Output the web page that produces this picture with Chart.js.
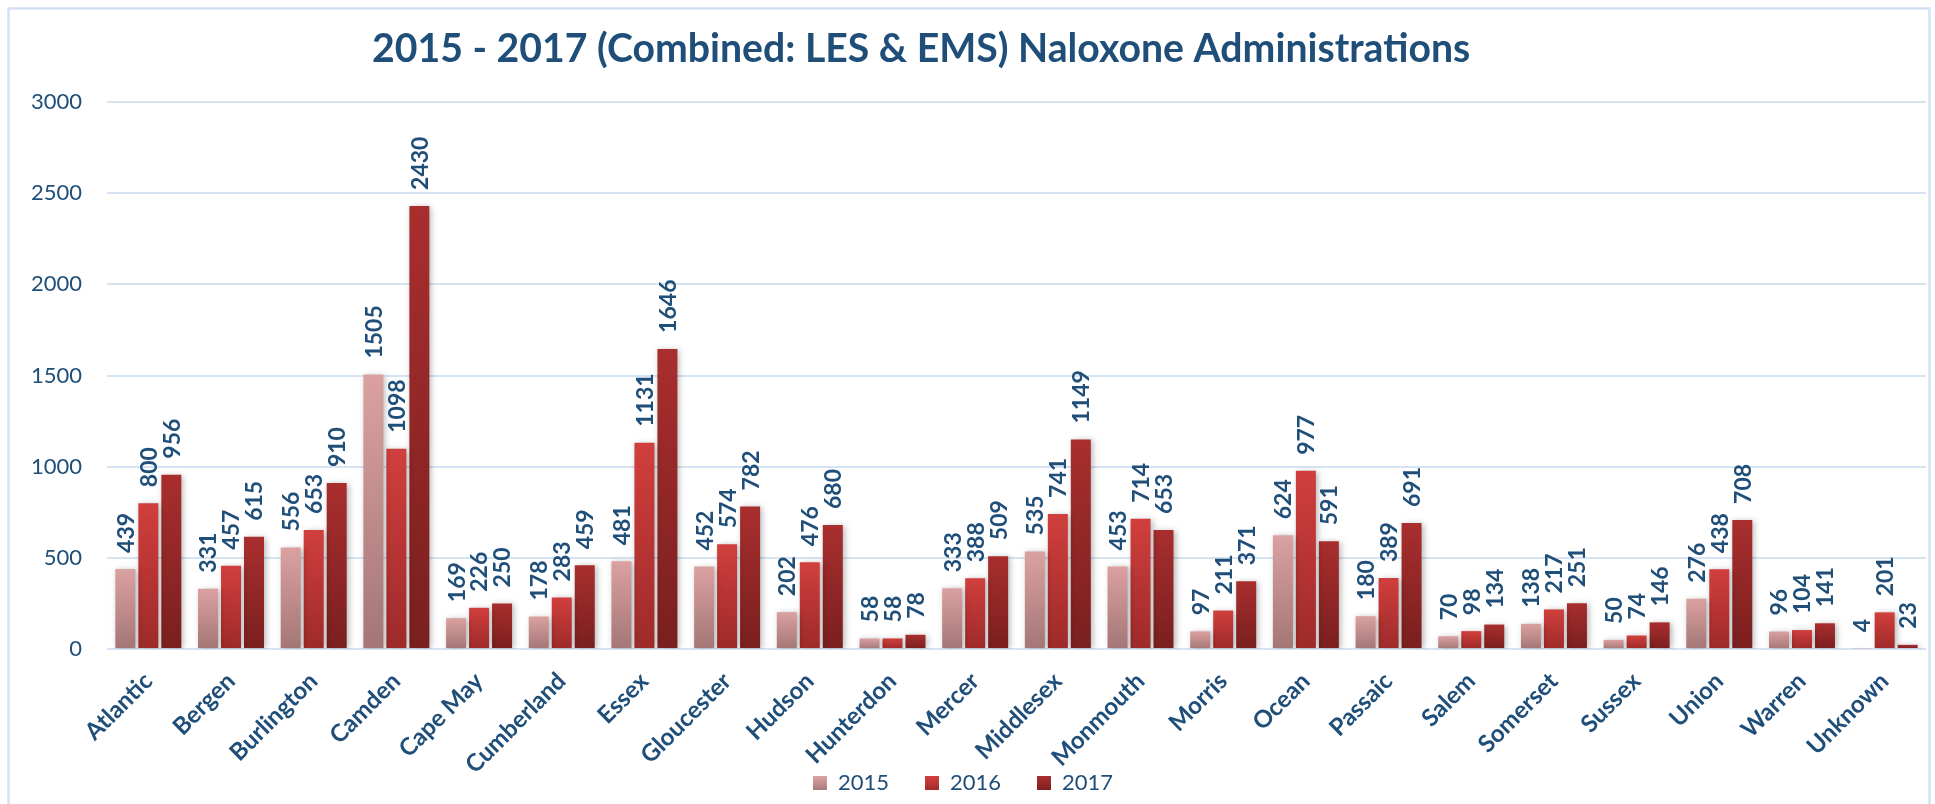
<!DOCTYPE html>
<html>
<head>
<meta charset="utf-8">
<script src="https://cdn.jsdelivr.net/npm/chart.js@4.4.1/dist/chart.umd.min.js"></script>
<style>
  html, body { margin: 0; padding: 0; background: #fff; overflow: hidden; }
  #wrap { position: relative; width: 1935px; height: 804px; }
</style>
</head>
<body>
<div id="wrap"><canvas id="c" width="1935" height="804"></canvas></div>
<script>
const chartTitle = "2015 - 2017 (Combined: LES & EMS) Naloxone Administrations";
const categories = ["Atlantic","Bergen","Burlington","Camden","Cape May","Cumberland","Essex","Gloucester","Hudson","Hunterdon","Mercer","Middlesex","Monmouth","Morris","Ocean","Passaic","Salem","Somerset","Sussex","Union","Warren","Unknown"];
const seriesNames = ["2015","2016","2017"];
const values2015 = [439,331,556,1505,169,178,481,452,202,58,333,535,453,97,624,180,70,138,50,276,96,4];
const values2016 = [800,457,653,1098,226,283,1131,574,476,58,388,741,714,211,977,389,98,217,74,438,104,201];
const values2017 = [956,615,910,2430,250,459,1646,782,680,78,509,1149,653,371,591,691,134,251,146,708,141,23];
const yTicks = [0,500,1000,1500,2000,2500,3000];

const navy = "#1F4E79";
const FONT = "Lato, 'Open Sans', 'DejaVu Sans', sans-serif";
const gradStops = [
  ["#DBA1A1", "#A47676"],
  ["#D03F3D", "#9E2A2A"],
  ["#A92E2E", "#7A1F1F"]
];

function barGradient(stops) {
  return function(c) {
    const ch = c.chart;
    const ys = ch.scales && ch.scales.y;
    if (!ys || c.raw == null || c.type !== 'data') return stops[0];
    const y0 = ys.getPixelForValue(0);
    const y1 = ys.getPixelForValue(c.raw);
    if (!isFinite(y0) || !isFinite(y1) || Math.abs(y0 - y1) < 0.5) return stops[0];
    const g = ch.ctx.createLinearGradient(0, y1, 0, y0);
    g.addColorStop(0, stops[0]);
    g.addColorStop(1, stops[1]);
    return g;
  };
}

const frame = {
  id: 'frame',
  beforeDraw(chart) {
    const ctx = chart.ctx;
    ctx.save();
    ctx.fillStyle = '#ffffff';
    ctx.fillRect(0, 0, chart.width, chart.height);
    ctx.strokeStyle = '#D3E1F3';
    ctx.lineWidth = 2.5;
    ctx.strokeRect(8.5, 8.5, 1921, 900);
    ctx.restore();
  },
  afterDraw(chart) {
    const ctx = chart.ctx;
    ctx.save();
    let size = 40;
    ctx.font = "bold " + size + "px " + FONT;
    const w = ctx.measureText(chartTitle).width;
    size = Math.min(42, size * 1100 / w);
    ctx.font = "bold " + size.toFixed(1) + "px " + FONT;
    ctx.fillStyle = navy;
    ctx.textAlign = 'left';
    ctx.textBaseline = 'alphabetic';
    ctx.fillText(chartTitle, 372, 62);
    ctx.restore();
  }
};

const shadow = {
  id: 'shadow',
  beforeDatasetsDraw(chart) {
    const ctx = chart.ctx;
    ctx.save();
    ctx.shadowColor = 'rgba(0,0,0,0.28)';
    ctx.shadowBlur = 6;
    ctx.shadowOffsetX = 2;
    ctx.shadowOffsetY = 1;
  },
  afterDatasetsDraw(chart) {
    const ctx = chart.ctx;
    ctx.restore();
    ctx.save();
    ctx.font = "bold 23px " + FONT;
    ctx.fillStyle = navy;
    ctx.textAlign = 'left';
    ctx.textBaseline = 'middle';
    chart.data.datasets.forEach((ds, di) => {
      const meta = chart.getDatasetMeta(di);
      meta.data.forEach((el, i) => {
        ctx.save();
        ctx.translate(el.x, el.y - 16);
        ctx.rotate(-Math.PI / 2);
        ctx.fillText(String(ds.data[i]), 0, 1);
        ctx.restore();
      });
    });
    ctx.restore();
  }
};

const seriesValues = [values2015, values2016, values2017];
const datasets = seriesNames.map((name, k) => ({
  label: name,
  data: seriesValues[k],
  backgroundColor: barGradient(gradStops[k]),
  borderWidth: 0,
  categoryPercentage: 0.834,
  barPercentage: 0.87
}));

new Chart(document.getElementById('c'), {
  type: 'bar',
  data: { labels: categories, datasets },
  plugins: [frame, shadow],
  options: {
    responsive: false,
    animation: false,
    devicePixelRatio: 1,
    layout: { padding: { left: 0, right: 9, top: 102, bottom: 0 } },
    plugins: {
      title: { display: false },
      tooltip: { enabled: false },
      legend: {
        position: 'bottom',
        labels: {
          boxWidth: 14,
          boxHeight: 14,
          padding: 36,
          color: navy,
          font: { family: FONT, size: 22 },
          generateLabels(chart) {
            const items = Chart.defaults.plugins.legend.labels.generateLabels(chart);
            items.forEach((it, k) => {
              const g = chart.ctx.createLinearGradient(0, 777, 0, 791);
              g.addColorStop(0, gradStops[k][0]);
              g.addColorStop(1, gradStops[k][1]);
              it.fillStyle = g;
              it.strokeStyle = 'rgba(0,0,0,0)';
              it.lineWidth = 0;
            });
            return items;
          }
        }
      }
    },
    scales: {
      x: {
        grid: { display: false },
        border: { display: false },
        ticks: {
          color: navy,
          font: { family: FONT, size: 24, weight: 'bold' },
          minRotation: 45,
          maxRotation: 45,
          autoSkip: false,
          padding: 10
        },
        afterFit(scale) {
          scale.height = 87;
          scale._computeLabelArea = function() { return undefined; };
        }
      },
      y: {
        min: 0,
        max: 3000,
        afterBuildTicks(scale) { scale.ticks = yTicks.map(v => ({ value: v })); },
        grid: { color: '#D6E3F3', lineWidth: 2, drawTicks: false },
        border: { display: false },
        ticks: {
          color: navy,
          font: { family: FONT, size: 22 },
          padding: 25,
          callback: v => String(v)
        },
        afterFit(scale) { scale.width = 107; }
      }
    }
  }
});
</script>
</body>
</html>
